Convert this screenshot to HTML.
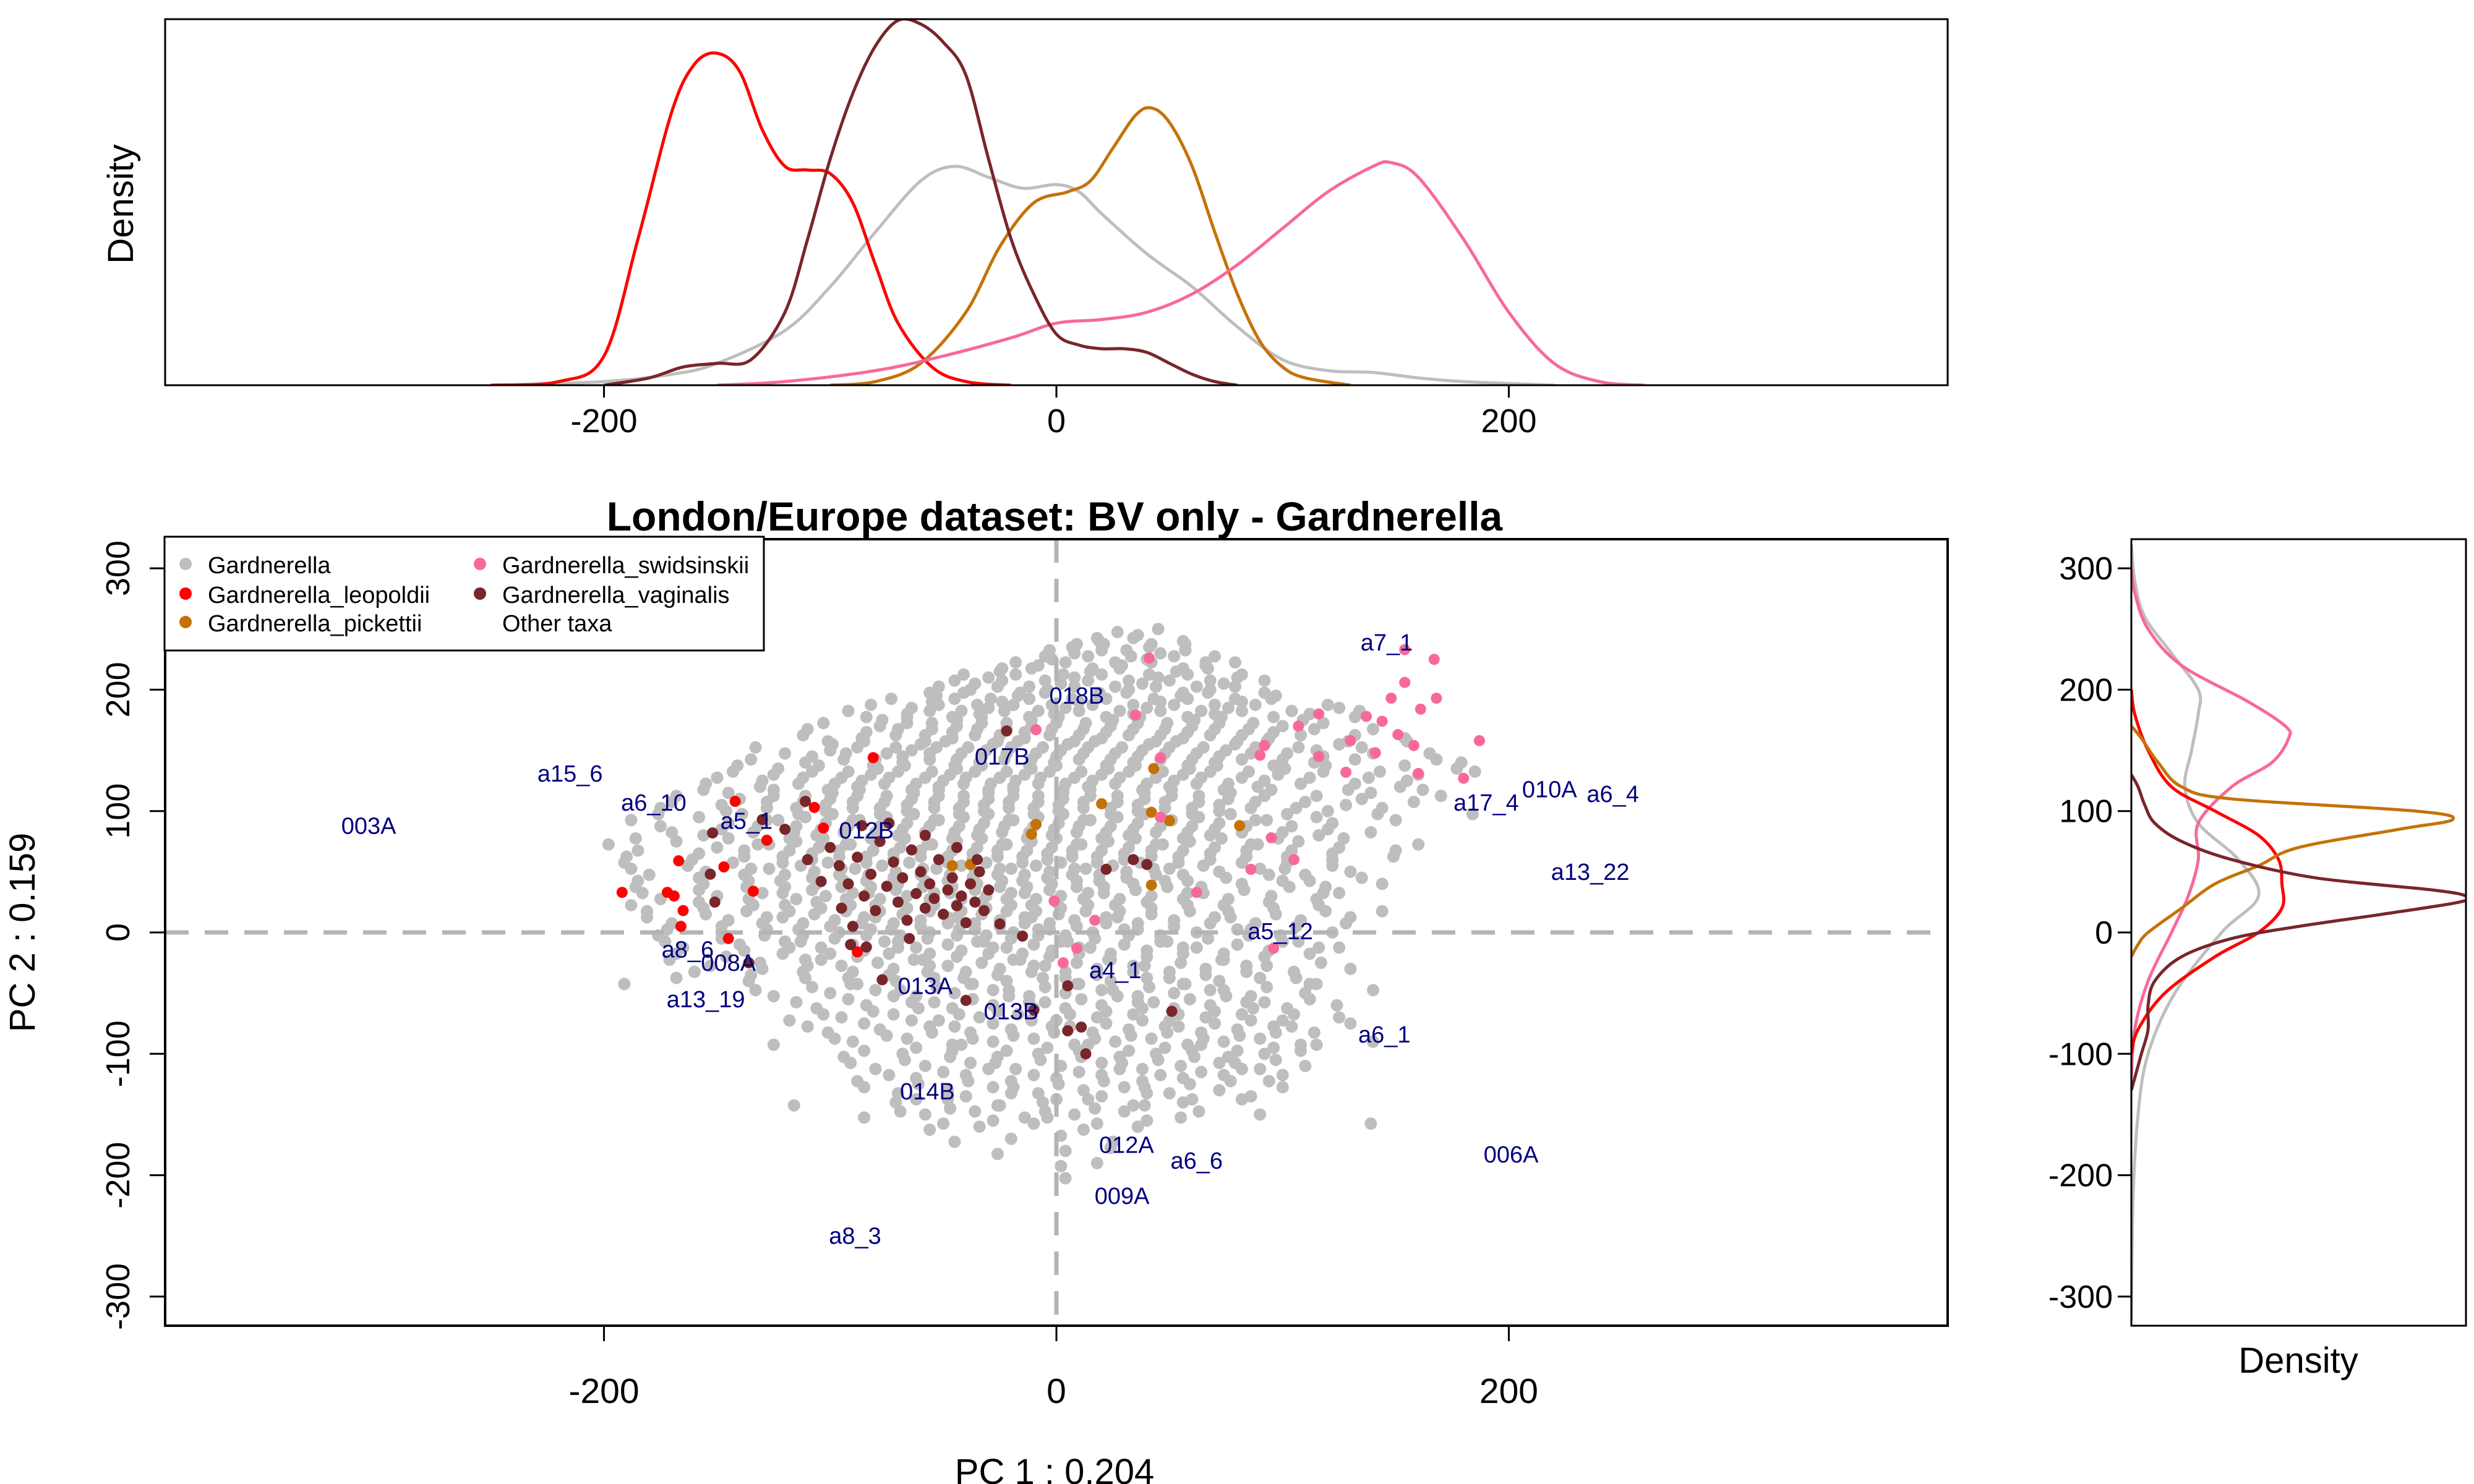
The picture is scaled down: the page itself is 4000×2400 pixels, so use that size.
<!DOCTYPE html>
<html><head><meta charset="utf-8"><style>
html,body{margin:0;padding:0;background:#fff;}
svg{display:block;font-family:"Liberation Sans",Arial,sans-serif;}
</style></head><body>
<svg id="chart" width="4000" height="2400" viewBox="0 0 4000 2400" xmlns="http://www.w3.org/2000/svg">
<rect width="4000" height="2400" fill="#fff"/>
<text x="1705" y="858" text-anchor="middle" font-size="66" font-weight="bold">London/Europe dataset: BV only - Gardnerella</text>
<text x="1705" y="2400" text-anchor="middle" font-size="58">PC 1 :  0.204</text>
<text transform="translate(56,1508) rotate(-90)" text-anchor="middle" font-size="58">PC 2 :  0.159</text>
<text transform="translate(215,330) rotate(-90)" text-anchor="middle" font-size="58">Density</text>
<text x="3716" y="2220" text-anchor="middle" font-size="58">Density</text>
<g id="topPanel"></g><g id="mainPanel"></g><g id="rightPanel"></g>
</svg>
<script>
// ---- data ----
const seriesNames = ["Gardnerella","Gardnerella_leopoldii","Gardnerella_pickettii","Gardnerella_swidsinskii","Gardnerella_vaginalis","Other taxa"];
const seriesColors = ["#bebebe","#ff0000","#c47208","#f8689c","#78262a",null];
const xTicks = [-200,0,200];
const yTicks = [-300,-200,-100,0,100,200,300];
const denTopGray = [[-250,0],[-200,0.01],[-170,0.03],[-150,0.06],[-120,0.15],[-100,0.27],[-80,0.42],[-60,0.56],[-45,0.6],[-30,0.57],[-15,0.54],[0,0.55],[10,0.53],[20,0.47],[40,0.36],[60,0.27],[80,0.16],[100,0.07],[120,0.04],[140,0.035],[160,0.02],[180,0.01],[220,0]];
const denTopRed = [[-250,0],[-220,0.01],[-200,0.08],[-185,0.4],[-170,0.75],[-160,0.88],[-150,0.91],[-140,0.86],[-130,0.7],[-120,0.6],[-110,0.59],[-100,0.58],[-90,0.5],[-80,0.33],[-70,0.17],[-55,0.05],[-40,0.01],[-20,0]];
const denTopOrange = [[-100,0],[-80,0.01],[-60,0.06],[-40,0.2],[-25,0.38],[-10,0.5],[5,0.53],[15,0.56],[25,0.65],[35,0.74],[42,0.76],[50,0.72],[60,0.6],[70,0.42],[80,0.25],[90,0.12],[100,0.05],[110,0.02],[130,0]];
const denTopPink = [[-150,0],[-120,0.01],[-80,0.04],[-50,0.08],[-20,0.13],[0,0.17],[20,0.18],[40,0.2],[60,0.25],[80,0.33],[100,0.43],[120,0.53],[140,0.6],[148,0.61],[160,0.57],[180,0.4],[200,0.2],[220,0.06],[240,0.01],[260,0]];
const denTopBrown = [[-200,0],[-180,0.02],[-165,0.05],[-150,0.06],[-135,0.07],[-120,0.2],[-110,0.4],[-100,0.62],[-90,0.8],[-80,0.93],[-70,1.0],[-60,0.99],[-50,0.94],[-40,0.85],[-30,0.62],[-20,0.4],[-10,0.25],[0,0.14],[10,0.11],[20,0.1],[30,0.1],[40,0.09],[50,0.06],[60,0.03],[70,0.01],[80,0]];
const denRightGray = [[-320,0],[-220,0.005],[-150,0.02],[-100,0.05],[-50,0.13],[0,0.27],[30,0.38],[60,0.32],[90,0.2],[120,0.16],[150,0.18],[180,0.2],[200,0.2],[230,0.12],[260,0.04],[290,0.01],[320,0]];
const denRightRed = [[-100,0],[-80,0.02],[-50,0.1],[-20,0.25],[0,0.38],[20,0.45],[40,0.45],[60,0.44],[80,0.38],[100,0.25],[120,0.12],[150,0.05],[180,0.01],[200,0]];
const denRightOrange = [[-20,0],[-10,0.02],[0,0.05],[20,0.15],[40,0.25],[55,0.38],[70,0.5],[85,0.8],[93,0.96],[100,0.85],[110,0.3],[120,0.15],[140,0.08],[160,0.03],[170,0]];
const denRightPink = [[-120,0],[-80,0.01],[-40,0.05],[0,0.12],[30,0.17],[60,0.2],[90,0.2],[120,0.3],[140,0.42],[160,0.47],[170,0.46],[190,0.35],[220,0.15],[250,0.05],[280,0.01],[300,0]];
const denRightBrown = [[-130,0],[-120,0.01],[-100,0.03],[-80,0.05],[-60,0.05],[-40,0.07],[-20,0.15],[-5,0.3],[5,0.5],[15,0.75],[25,0.98],[30,1.0],[35,0.9],[45,0.55],[60,0.3],[75,0.15],[90,0.07],[105,0.04],[120,0.02],[130,0]];
const grayRowY = [250,240,230,220,210,200,190,180,170,160,150,140,130,120,110,100,90,80,70,60,50,40,30,20,10,0,-10,-20,-30,-40,-50,-60,-70,-80,-90,-100,-110,-120,-130,-140,-150,-160,-170,-180,-190,-200];
const grayRowX = [
[27,45],[5,15,30,38,52],[-5,8,20,33,46,57,70],[-28,-12,0,12,25,38,52,62,75],
[-45,-30,-18,-5,8,20,32,45,58,68,80],[-60,-42,-30,-20,-8,4,15,28,40,52,64,75,88],
[-82,-55,-45,-35,-24,-12,-2,10,22,34,46,58,70,82,95,120],
[-88,-70,-60,-50,-38,-27,-16,-5,6,18,30,42,54,66,78,92,108,130],
[-110,-78,-66,-55,-44,-33,-22,-11,0,12,24,36,48,60,72,85,100,118,140],
[-105,-90,-75,-62,-50,-40,-30,-18,-7,4,16,28,40,52,64,76,90,104,125,150],
[-120,-100,-88,-75,-64,-53,-42,-31,-20,-9,2,14,26,38,50,62,75,88,102,115,135,165],
[-145,-115,-98,-85,-72,-60,-49,-38,-27,-16,-5,6,18,30,42,54,66,78,92,110,128,150,175],
[-150,-125,-108,-95,-82,-70,-58,-47,-36,-25,-14,-3,8,20,32,44,56,68,82,98,118,138,160,185],
[-160,-135,-118,-105,-92,-80,-68,-56,-45,-34,-23,-12,-1,10,22,34,46,58,70,85,104,125,148],
[-170,-140,-125,-112,-100,-88,-76,-64,-52,-41,-30,-19,-8,3,15,27,39,51,63,76,92,110,135,170],
[-180,-150,-132,-118,-106,-94,-82,-70,-58,-47,-36,-25,-14,-3,8,20,32,44,56,68,82,98,116,140,180],
[-175,-145,-128,-115,-102,-90,-78,-66,-54,-43,-32,-21,-10,1,12,24,36,48,60,72,88,104,122,150],
[-190,-160,-138,-122,-110,-98,-86,-74,-62,-50,-39,-28,-17,-6,5,16,28,40,52,64,78,94,112,135],
[-185,-150,-132,-118,-105,-93,-81,-69,-57,-46,-35,-24,-13,-2,9,20,32,44,56,70,86,104,125,160],
[-195,-165,-142,-125,-112,-100,-88,-76,-64,-52,-41,-30,-19,-8,3,14,26,38,50,64,80,98,118,145],
[-180,-155,-135,-120,-107,-95,-83,-71,-59,-47,-36,-25,-14,-3,8,19,31,43,56,72,90,110,130],
[-190,-160,-140,-124,-110,-98,-86,-74,-62,-50,-39,-28,-17,-6,5,17,30,44,60,78,96,115,140],
[-175,-150,-130,-115,-102,-90,-78,-66,-54,-42,-31,-20,-9,2,14,28,42,58,76,95,118],
[-185,-160,-138,-122,-108,-95,-82,-70,-58,-46,-35,-24,-13,-2,10,24,38,54,72,92,112,140],
[-170,-145,-128,-112,-98,-85,-72,-60,-48,-36,-25,-14,-3,8,22,36,52,70,88,108,130],
[-180,-152,-132,-116,-100,-86,-73,-60,-47,-35,-23,-12,0,12,26,42,58,76,95,118],
[-165,-140,-120,-104,-90,-76,-62,-48,-35,-22,-10,2,15,30,46,62,80,100,125],
[-175,-150,-125,-108,-92,-78,-63,-48,-34,-20,-7,6,20,36,52,70,88,108],
[-160,-130,-110,-90,-72,-56,-40,-25,-10,4,18,34,50,66,84,105,130],
[-195,-140,-115,-95,-75,-58,-42,-26,-10,5,20,36,52,68,86,108],
[-125,-100,-80,-62,-45,-28,-12,4,20,36,52,68,86,110,140],
[-110,-88,-68,-50,-32,-16,0,16,32,48,64,80,98,120],
[-118,-95,-72,-52,-34,-17,0,18,34,50,66,82,100,125],
[-105,-82,-60,-42,-24,-6,12,28,44,60,76,92,110],
[-125,-90,-66,-46,-28,-10,8,26,42,58,74,90,108,140],
[-98,-72,-50,-30,-12,6,24,40,56,72,88,104],
[-80,-58,-38,-18,2,20,38,55,72,90,110],
[-92,-66,-44,-24,-4,16,34,52,70,90],
[-70,-48,-28,-8,12,30,50,72,100],
[-120,-75,-52,-30,-10,10,30,52,78],
[-85,-58,-36,-14,8,30,55,90],
[-60,-38,-14,8,32,135],
[-45,-20,2,25],[-30,0,20],[2,18],[0]];
// interleaved gray rows (half-step in y)
const grayRowY2 = [245,235,225,215,205,195,185,175,165,155,145,135,125,115,105,95,85,75,65,55,45,35,25,15,5,-5,-15,-25,-35,-45,-55,-65,-75,-85,-95,-105,-115,-125,-135,-145,-155];
const grayRowX2 = [
[18,36],[0,10,24,34,44,60],[-18,-2,14,26,40,52,66],[-38,-22,-8,6,18,31,44,56,70,85],
[-52,-36,-24,-12,2,14,26,38,50,62,74,92],[-70,-50,-38,-26,-14,-2,10,22,34,46,58,70,82,100],
[-92,-64,-52,-42,-30,-19,-8,4,16,28,40,52,64,76,88,104,125],
[-100,-74,-63,-52,-41,-30,-19,-8,4,16,28,40,52,64,76,90,112,135],
[-112,-84,-70,-58,-46,-35,-25,-14,-2,10,22,34,46,58,70,82,96,114,132],
[-130,-96,-82,-68,-57,-46,-36,-25,-14,-3,8,20,32,44,56,68,82,96,110,128,158],
[-135,-108,-93,-80,-68,-56,-44,-33,-22,-11,0,12,24,36,48,60,72,86,100,118,140,168],
[-140,-120,-102,-89,-76,-64,-52,-41,-30,-19,-8,3,14,26,38,50,62,74,88,104,122,146,180],
[-155,-130,-112,-98,-86,-74,-62,-50,-40,-29,-18,-7,4,16,28,40,52,64,76,92,112,132,155],
[-165,-142,-122,-108,-96,-84,-72,-60,-49,-38,-27,-16,-5,6,18,30,42,54,66,80,98,118,142,165],
[-175,-148,-128,-115,-102,-90,-78,-66,-54,-43,-32,-21,-10,1,12,24,36,48,60,72,88,106,128,158],
[-185,-155,-136,-120,-108,-96,-84,-72,-60,-49,-38,-27,-16,-5,6,18,30,42,54,66,80,96,118,145],
[-170,-148,-132,-116,-104,-92,-80,-68,-56,-45,-34,-23,-12,-1,10,22,34,46,58,70,84,100,120],
[-195,-165,-142,-124,-112,-100,-88,-76,-64,-52,-41,-30,-19,-8,3,14,26,38,50,62,76,92,110,130],
[-190,-158,-138,-121,-108,-96,-84,-72,-60,-48,-37,-26,-15,-4,7,18,30,42,54,68,84,102,122,150],
[-185,-160,-140,-124,-110,-98,-86,-74,-62,-50,-39,-28,-17,-6,5,16,28,40,53,68,85,104,125],
[-185,-158,-138,-122,-108,-96,-84,-72,-60,-48,-37,-26,-15,-4,7,19,31,44,58,75,94,112,135],
[-180,-155,-134,-118,-105,-92,-80,-68,-56,-44,-33,-22,-11,0,12,24,38,52,68,86,106,128],
[-188,-158,-136,-120,-106,-93,-80,-68,-56,-44,-33,-22,-11,0,12,26,40,56,74,94,115],
[-178,-152,-134,-118,-104,-90,-77,-65,-53,-41,-30,-19,-8,4,16,30,45,62,80,100,122],
[-172,-148,-130,-114,-100,-86,-73,-60,-48,-36,-25,-14,-3,9,22,36,52,68,86,106,128],
[-170,-145,-126,-110,-95,-81,-67,-54,-41,-29,-17,-5,8,20,35,52,70,88,110],
[-168,-138,-118,-100,-85,-70,-56,-42,-28,-15,-2,10,24,40,56,74,94,116],
[-150,-128,-108,-92,-76,-60,-45,-30,-16,-2,12,26,42,58,76,96,120],
[-168,-135,-112,-92,-74,-57,-41,-26,-11,4,18,34,50,66,84,106],
[-130,-105,-85,-66,-50,-34,-18,-2,13,28,44,60,77,96,118],
[-115,-92,-72,-54,-37,-21,-5,11,27,43,59,75,92,112],
[-100,-78,-58,-40,-23,-7,9,25,41,57,73,90,108],
[-110,-85,-64,-45,-28,-11,6,22,38,54,70,86,104,130],
[-95,-72,-52,-34,-16,2,20,36,52,68,84,100],
[-85,-62,-42,-22,-4,14,32,48,64,80,96,115],
[-88,-64,-44,-24,-4,14,32,48,64,82,100],
[-74,-50,-30,-10,10,28,46,64,82,100],
[-82,-58,-36,-16,4,24,42,62,80],
[-62,-40,-20,0,20,40,60,86],
[-66,-44,-22,-2,20,42,66],
[-50,-28,-4,18,40]];
const redPts = [[-192,33],[-172,33],[-169,30],[-165,18],[-166,5],[-167,59],[-147,54],[-134,34],[-145,-5],[-142,108],[-128,76],[-107,103],[-103,86],[-81,144],[-88,-16]];
const orangePts = [[43,135],[20,106],[-9,89],[-11,81],[-46,55],[-38,56],[42,99],[50,92],[81,88],[42,39]];
const pinkPts = [[41,226],[35,179],[-9,167],[168,193],[161,184],[154,206],[148,193],[144,174],[137,178],[151,163],[158,154],[167,225],[154,233],[116,180],[107,170],[130,158],[141,148],[160,131],[180,127],[187,158],[92,154],[90,146],[95,78],[116,145],[128,132],[62,33],[86,52],[105,60],[96,-13],[17,10],[3,-25],[9,-13],[-1,26],[46,144],[46,95]];
const brownPts = [[-152,82],[-111,108],[-130,93],[-153,48],[-151,25],[-136,-25],[-120,85],[-22,166],[22,52],[34,60],[40,56],[5,-44],[5,-81],[11,-78],[13,-100],[51,-65],[-40,-56],[-10,-64],[-25,7],[-15,-3],[-77,-39],[-84,-12],[-91,-10],
[-100,70],[-96,55],[-92,40],[-88,62],[-85,30],[-82,48],[-80,18],[-78,75],[-75,38],[-72,58],[-70,25],[-68,45],[-66,10],[-64,68],[-62,32],[-60,50],[-58,20],[-56,40],[-54,28],[-52,60],[-50,15],[-48,35],[-46,45],[-44,22],[-42,30],[-40,8],[-38,40],[-36,25],[-34,50],[-32,18],[-30,35],[-95,20],[-104,42],[-110,60],[-86,88],[-74,90],[-58,80],[-44,70],[-90,5],[-65,-5],[-35,60]];
const labelText = ["a7_1","018B","017B","a15_6","a6_10","010A","a6_4","a17_4","003A","a5_1","012B","a13_22","a5_12","a8_6","008A","a4_1","013A","013B","a13_19","a6_1","014B","012A","a6_6","006A","009A","a8_3"];
const labelX = [146,9,-24,-215,-178,218,246,190,-304,-137,-84,236,99,-163,-145,26,-58,-20,-155,145,-57,31,62,201,29,-89];
const labelY = [239,195,145,131,107,118,114,107,88,92,84,50,1,-14,-25,-31,-44,-65,-55,-84,-131,-175,-188,-183,-217,-250];

// ---- layout ----
const NS="http://www.w3.org/2000/svg";
const M={l:267,r:3149,t:872,b:2144};
const T={t:31,b:623};
const R={l:3446,r:3987};
const XMIN=-394,XMAX=394,YMIN=-324,YMAX=324;
const sx=v=>M.l+(v-XMIN)/(XMAX-XMIN)*(M.r-M.l);
const sy=v=>M.b-(v-YMIN)/(YMAX-YMIN)*(M.b-M.t);
const th=h=>T.b-h*(T.b-T.t-2);
const rw=w=>R.l+w*(R.r-R.l);
function el(tag,attrs,parent,txt){const e=document.createElementNS(NS,tag);for(const k in attrs)e.setAttribute(k,attrs[k]);if(txt!==undefined)e.textContent=txt;parent.appendChild(e);return e;}
function smoothPath(pts){let d=`M${pts[0][0]},${pts[0][1]}`;for(let i=0;i<pts.length-1;i++){const p0=pts[i-1]||pts[i],p1=pts[i],p2=pts[i+1],p3=pts[i+2]||p2;const c1=[p1[0]+(p2[0]-p0[0])/6,p1[1]+(p2[1]-p0[1])/6],c2=[p2[0]-(p3[0]-p1[0])/6,p2[1]-(p3[1]-p1[1])/6];d+=` C${c1[0]},${c1[1]} ${c2[0]},${c2[1]} ${p2[0]},${p2[1]}`;}return d;}

// ---- top density ----
const topG=document.getElementById('topPanel');
const topDefs=el('defs',{},topG);
const cpT=el('clipPath',{id:'cpT'},topDefs);el('rect',{x:M.l,y:T.t,width:M.r-M.l,height:T.b-T.t},cpT);
const topCurves=[[denTopGray,0,'gray'],[denTopRed,1,'leopoldii'],[denTopOrange,2,'pickettii'],[denTopPink,3,'swidsinskii'],[denTopBrown,4,'vaginalis']];
const gT=el('g',{'clip-path':'url(#cpT)'},topG);
for(const [d,ci,nm] of topCurves){
  const p=el('path',{d:smoothPath(d.map(q=>[sx(q[0]),th(q[1])])),fill:'none',stroke:seriesColors[ci],'stroke-width':5},gT);
  
  
}
const tf=el('rect',{x:M.l,y:T.t,width:M.r-M.l,height:T.b-T.t,fill:'none',stroke:'#000','stroke-width':3},topG);


for(const v of xTicks){
  el('line',{x1:sx(v),x2:sx(v),y1:T.b,y2:T.b+20,stroke:'#000','stroke-width':3},topG);
  const t=el('text',{x:sx(v),y:T.b+76,'text-anchor':'middle','font-size':54},topG,String(v));
  
  
}

// ---- main scatter ----
const mainG=document.getElementById('mainPanel');
const mDefs=el('defs',{},mainG);
const cpM=el('clipPath',{id:'cpM'},mDefs);el('rect',{x:M.l,y:M.t,width:M.r-M.l,height:M.b-M.t},cpM);
const gM=el('g',{'clip-path':'url(#cpM)'},mainG);
const gGray=el('g',{fill:seriesColors[0]},gM);


function grayRows(ys,xs,jit){
  ys.forEach((yv,i)=>{xs[i].forEach((xv,j)=>{
    const c=el('circle',{cx:sx(xv+((i%2)?jit:0)),cy:sy(yv+((j%3)-1)*2.5),r:10},gGray);
    
    
  });});
}
grayRows(grayRowY,grayRowX,4);
grayRows(grayRowY2,grayRowX2,-3);
const dv=el('line',{x1:sx(0),x2:sx(0),y1:M.t,y2:M.b,stroke:'#b4b4b4','stroke-width':7,'stroke-dasharray':'38,26'},gM);


const dh=el('line',{x1:M.l,x2:M.r,y1:sy(0),y2:sy(0),stroke:'#b4b4b4','stroke-width':7,'stroke-dasharray':'38,26'},gM);


const colored=[[redPts,1,'leopoldii'],[orangePts,2,'pickettii'],[pinkPts,3,'swidsinskii'],[brownPts,4,'vaginalis']];
for(const [pts,ci,nm] of colored){
  const g=el('g',{fill:seriesColors[ci]},gM);
  
  
  for(const p of pts){
    const c=el('circle',{cx:sx(p[0]),cy:sy(p[1]),r:9},g);
    
    
  }
}
labelText.forEach((t,i)=>{
  const e=el('text',{x:sx(labelX[i]),y:sy(labelY[i])+13,'text-anchor':'middle','font-size':38,fill:'#000080'},gM,t);
  
  
});
const mf=el('rect',{x:M.l,y:M.t,width:M.r-M.l,height:M.b-M.t,fill:'none',stroke:'#000','stroke-width':4},mainG);


for(const v of xTicks){
  el('line',{x1:sx(v),x2:sx(v),y1:M.b,y2:M.b+25,stroke:'#000','stroke-width':3},mainG);
  const t=el('text',{x:sx(v),y:M.b+125,'text-anchor':'middle','font-size':57},mainG,String(v));
  
  
}
for(const v of yTicks){
  el('line',{x1:M.l-25,x2:M.l,y1:sy(v),y2:sy(v),stroke:'#000','stroke-width':3},mainG);
  const t=el('text',{transform:`translate(${M.l-58},${sy(v)}) rotate(-90)`,'text-anchor':'middle','font-size':54},mainG,String(v));
  
  
}
const lg=el('g',{},mainG);


el('rect',{x:266,y:868,width:969,height:184,fill:'#fff',stroke:'#000','stroke-width':3},lg);
const legX=[300,300,300,776,776,776],legY=[914,962,1008,914,962,1008];
[0,1,2,3,4,5].forEach((si,i)=>{
  const e=el('g',{},lg);
  
  
  if(seriesColors[si]) el('circle',{cx:legX[i],cy:legY[i]-2,r:10,fill:seriesColors[si]},e);
  el('text',{x:legX[i]+36,y:legY[i]+13,'font-size':38},e,seriesNames[si]);
});

// ---- right density ----
const rightG=document.getElementById('rightPanel');
const rDefs=el('defs',{},rightG);
const cpR=el('clipPath',{id:'cpR'},rDefs);el('rect',{x:R.l,y:M.t,width:R.r-R.l,height:M.b-M.t},cpR);
const gR=el('g',{'clip-path':'url(#cpR)'},rightG);
const rightCurves=[[denRightGray,0,'gray'],[denRightPink,3,'swidsinskii'],[denRightRed,1,'leopoldii'],[denRightOrange,2,'pickettii'],[denRightBrown,4,'vaginalis']];
for(const [d,ci,nm] of rightCurves){
  const p=el('path',{d:smoothPath(d.map(q=>[rw(q[1]),sy(q[0])])),fill:'none',stroke:seriesColors[ci],'stroke-width':5},gR);
  
  
}
const rf=el('rect',{x:R.l,y:M.t,width:R.r-R.l,height:M.b-M.t,fill:'none',stroke:'#000','stroke-width':3},rightG);


for(const v of yTicks){
  el('line',{x1:R.l-22,x2:R.l,y1:sy(v),y2:sy(v),stroke:'#000','stroke-width':3},rightG);
  const t=el('text',{x:R.l-30,y:sy(v)+18,'text-anchor':'end','font-size':52},rightG,String(v));
  
  
}
</script>
</body></html>
